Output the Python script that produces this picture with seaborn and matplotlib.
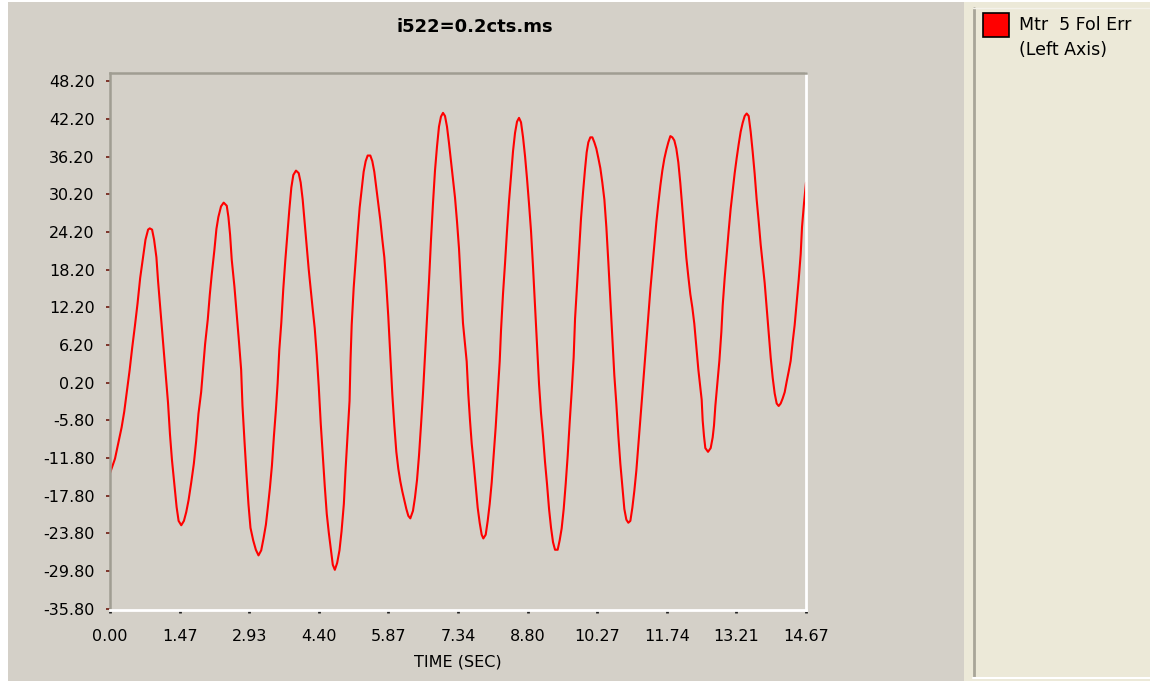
import matplotlib
matplotlib.use("Agg")
import matplotlib.pyplot as plt
import seaborn as sns
import pandas as pd
from matplotlib.patches import Rectangle
from matplotlib.lines import Line2D

# ---------------- data ----------------
time_s = [
    0.000, 0.105, 0.175, 0.245, 0.300, 0.356, 0.412, 0.468, 0.524, 0.580, 0.636, 0.692, 0.748, 0.803, 0.838,
    0.887, 0.929, 0.978, 1.013, 1.055, 1.097, 1.139, 1.181, 1.223, 1.264, 1.306, 1.362, 1.404, 1.446, 1.502,
    1.558, 1.607, 1.656, 1.712, 1.767, 1.816, 1.865, 1.921, 1.963, 2.005, 2.061, 2.103, 2.145, 2.201, 2.243,
    2.284, 2.340, 2.396,
    2.461, 2.496, 2.531, 2.566, 2.623, 2.672, 2.721, 2.764, 2.792, 2.834, 2.877, 2.919, 2.961, 3.018, 3.074,
    3.130, 3.187, 3.236, 3.286, 3.328, 3.370, 3.413, 3.455, 3.497, 3.533, 3.568, 3.610, 3.652, 3.695, 3.737,
    3.779, 3.822, 3.864, 3.920, 3.977, 4.019, 4.061, 4.104, 4.146, 4.188, 4.231, 4.273, 4.315, 4.358, 4.400,
    4.442, 4.485, 4.527, 4.569, 4.612, 4.654, 4.696, 4.739, 4.788, 4.837, 4.880, 4.929, 4.964, 5.007, 5.049,
    5.070,
    5.094, 5.136, 5.178, 5.220, 5.262, 5.304, 5.346, 5.389, 5.431, 5.487, 5.529, 5.571, 5.613, 5.656, 5.698,
    5.740, 5.782, 5.824, 5.866, 5.909, 5.951, 5.993, 6.035, 6.077, 6.119, 6.161, 6.204, 6.246, 6.288, 6.330,
    6.386, 6.428, 6.471, 6.513, 6.555, 6.597, 6.639, 6.681, 6.724, 6.766, 6.808, 6.850, 6.892, 6.934, 6.976,
    7.019, 7.061, 7.103, 7.145, 7.187, 7.229, 7.272, 7.314, 7.356, 7.398, 7.440,
    7.518, 7.553, 7.588, 7.624, 7.666, 7.708, 7.750, 7.792, 7.834, 7.869, 7.919, 7.961, 8.003, 8.045, 8.087,
    8.129, 8.172, 8.214, 8.242, 8.284, 8.326, 8.368, 8.410, 8.453, 8.495, 8.537, 8.579, 8.621, 8.663, 8.706,
    8.748, 8.790, 8.832, 8.874, 8.916, 8.958, 9.001, 9.043, 9.085, 9.127, 9.169, 9.211, 9.254, 9.296, 9.338,
    9.380, 9.436, 9.478, 9.520, 9.563, 9.605, 9.647, 9.689, 9.731, 9.773, 9.802, 9.844, 9.886, 9.928, 9.970,
    10.012,
    10.047, 10.082, 10.124, 10.167, 10.209, 10.251, 10.293, 10.335, 10.377, 10.420, 10.462, 10.504, 10.546,
    10.588, 10.630, 10.672, 10.715, 10.757, 10.799, 10.841, 10.883, 10.925, 10.968, 11.010, 11.052, 11.094,
    11.136, 11.178, 11.220, 11.263, 11.305, 11.347, 11.389, 11.431, 11.473, 11.516, 11.558, 11.600, 11.642,
    11.684, 11.726, 11.768, 11.811, 11.853, 11.895, 11.937, 11.979, 12.021, 12.064, 12.106, 12.148, 12.190,
    12.232, 12.274, 12.316, 12.359, 12.401,
    12.471, 12.492, 12.520, 12.548, 12.605, 12.661, 12.703, 12.731, 12.759, 12.801, 12.844, 12.886, 12.914,
    12.956, 12.998, 13.040, 13.082, 13.125, 13.167, 13.209, 13.251, 13.293, 13.335, 13.378, 13.420, 13.462,
    13.504, 13.546, 13.588, 13.630, 13.673, 13.715, 13.757, 13.799, 13.841, 13.883, 13.926, 13.968, 14.010,
    14.052, 14.094, 14.136, 14.178, 14.221, 14.263, 14.305, 14.347, 14.389, 14.431, 14.473, 14.516, 14.558,
    14.586, 14.628, 14.670,
]
fol_err = [
    -14.2, -11.9, -9.4, -6.9, -4.4, -1.1, 2.1, 5.8, 9.2, 12.8, 16.9, 20.0, 23.0, 24.6, 24.8,
    24.6, 23.0, 20.2, 16.4, 12.5, 8.6, 4.7, 0.9, -3.0, -8.0, -12.1, -16.3, -19.6, -21.8, -22.5,
    -21.8, -20.4, -18.5, -15.7, -12.7, -9.1, -4.7, -1.3, 2.5, 6.4, 10.3, 14.2, 17.5, 21.4, 24.7,
    26.6, 28.3, 28.9,
    28.4, 26.6, 23.8, 19.8, 15.5, 11.1, 6.5, 2.3, -3.4, -9.0, -14.4, -19.2, -22.9, -24.9, -26.4,
    -27.3, -26.5, -24.6, -22.4, -19.6, -16.6, -13.0, -8.3, -4.1, 0.1, 5.4, 9.7, 15.1, 19.7, 23.7,
    27.7, 31.3, 33.3, 34.0, 33.6, 32.1, 29.4, 25.6, 21.8, 18.3, 15.0, 11.9, 8.9, 4.6, -0.4,
    -6.3, -11.5, -16.3, -20.7, -23.7, -26.3, -28.8, -29.6, -28.5, -26.5, -23.5, -19.1, -13.8, -8.3, -2.7,
    3.9,
    9.4, 15.3, 19.8, 24.1, 28.1, 31.0, 33.8, 35.5, 36.4, 36.4, 35.5, 33.8, 31.3, 28.8, 26.1,
    23.0, 20.2, 15.8, 10.7, 4.5, -1.7, -6.6, -10.8, -13.5, -15.5, -17.1, -18.5, -19.9, -21.0, -21.4,
    -20.2, -18.1, -15.3, -11.4, -6.6, -1.5, 4.6, 10.4, 16.4, 23.0, 28.8, 34.0, 37.8, 41.0, 42.6,
    43.2, 42.7, 41.0, 38.4, 35.5, 32.5, 29.7, 25.9, 21.6, 15.5, 9.7,
    3.6, -1.7, -5.8, -9.5, -12.7, -16.2, -19.7, -22.1, -24.0, -24.6, -24.0, -21.8, -19.1, -15.7, -11.2,
    -6.9, -1.6, 3.6, 8.6, 14.4, 19.2, 24.4, 29.1, 33.1, 37.1, 40.0, 41.8, 42.4, 41.7, 39.3,
    36.3, 32.7, 28.7, 24.4, 18.7, 12.6, 6.3, 0.0, -4.7, -8.3, -12.4, -15.9, -19.9, -22.9, -25.2,
    -26.4, -26.4, -24.9, -23.0, -19.9, -15.9, -11.4, -6.1, -1.2, 4.3, 10.4, 15.8, 21.1, 26.4, 30.5,
    34.2,
    36.9, 38.5, 39.3, 39.3, 38.5, 37.5, 36.0, 34.4, 32.1, 29.4, 25.0, 19.4, 13.3,
    7.5, 1.4, -3.1, -8.3, -12.7, -16.4, -19.9, -21.6, -22.1, -21.8, -19.7, -17.0, -13.8,
    -9.8, -5.8, -1.6, 2.6, 6.7, 10.7, 15.0, 18.6, 22.3, 25.8, 28.8, 31.6, 34.0,
    35.9, 37.3, 38.5, 39.5, 39.3, 38.8, 37.5, 35.3, 32.0, 28.0, 24.2, 20.1, 17.1,
    14.3, 12.2, 9.6, 6.0, 2.3,
    -2.5, -5.8, -8.3, -10.2, -10.8, -10.2, -8.5, -6.6, -3.5, 0.0, 3.7, 8.3, 12.5,
    16.9, 20.7, 24.4, 27.9, 30.8, 33.6, 36.0, 38.2, 40.2, 41.6, 42.7, 43.1, 42.7,
    40.2, 37.0, 33.5, 29.4, 25.9, 22.2, 19.2, 16.1, 12.1, 8.1, 4.2, 1.0, -1.5,
    -3.1, -3.5, -3.1, -2.3, -1.3, 0.4, 2.0, 3.7, 6.7, 9.4, 12.9, 16.6, 20.7,
    25.0, 28.8, 32.1,
]
x_ticks = [0.00, 1.467, 2.934, 4.401, 5.868, 7.335, 8.802, 10.269, 11.736, 13.203, 14.67]
x_tick_labels = ["0.00", "1.47", "2.93", "4.40", "5.87", "7.34", "8.80", "10.27", "11.74", "13.21", "14.67"]
y_ticks = [48.2, 42.2, 36.2, 30.2, 24.2, 18.2, 12.2, 6.2, 0.2, -5.8, -11.8, -17.8, -23.8, -29.8, -35.8]
y_tick_labels = ["48.20", "42.20", "36.20", "30.20", "24.20", "18.20", "12.20", "6.20", "0.20",
                 "-5.80", "-11.80", "-17.80", "-23.80", "-29.80", "-35.80"]
title_text = "i522=0.2cts.ms"
x_label = "TIME (SEC)"
legend_lines = ["Mtr  5 Fol Err", "(Left Axis)"]

# ---------------- styling ----------------
W, H = 1150, 681
BG = "#d4d0c8"
PANEL = "#ece9d8"

sns.set_theme(style="white")
plt.rcParams["font.family"] = ["DejaVu Sans"]

fig = plt.figure(figsize=(W / 100, H / 100), dpi=100)
fig.patch.set_facecolor("white")


def fx(px):
    return px / W


def fy(py):
    return 1 - py / H


# window background areas
fig.add_artist(Rectangle((fx(8), 0), fx(964 - 8), fy(2), transform=fig.transFigure,
                         facecolor=BG, edgecolor="none", zorder=-10))
fig.add_artist(Rectangle((fx(964), 0), fx(W - 964), fy(2), transform=fig.transFigure,
                         facecolor=PANEL, edgecolor="none", zorder=-10))
fig.add_artist(Line2D([fx(973.5), fx(973.5)], [fy(8), fy(677)], transform=fig.transFigure,
                      color="#a8a598", lw=2.0))
fig.add_artist(Line2D([fx(973), fx(W)], [fy(677.5), fy(677.5)], transform=fig.transFigure,
                      color="white", lw=1.5))
fig.add_artist(Line2D([fx(973), fx(W)], [fy(8), fy(8)], transform=fig.transFigure,
                      color="#f4f2ea", lw=1.0))

left, right, top, bottom = 110, 806, 73, 610
ax = fig.add_axes([fx(left), fy(bottom), fx(right - left), (bottom - top) / H])
ax.set_facecolor(BG)

df = pd.DataFrame({"t": time_s, "err": fol_err})
sns.lineplot(data=df, x="t", y="err", ax=ax, color="#ff0000", linewidth=1.5,
             sort=False, estimator=None, legend=False)

ax.set_xlim(0, 14.67)
ax.set_ylim(-36.0, 49.55)
ax.set_xticks(x_ticks)
ax.set_xticklabels(x_tick_labels)
ax.set_yticks(y_ticks)
ax.set_yticklabels(y_tick_labels)
ax.set_xlabel(x_label, fontsize=11.5, color="black", labelpad=7)
ax.set_ylabel("")

# title (slightly right of the plot centre, as in the original window)
fig.text(fx(475), fy(27), title_text, fontsize=13, fontweight="bold",
         color="black", ha="center", va="center")

ax.tick_params(axis="y", which="major", left=True, length=3, width=1.2, color="#6e1a10",
               labelsize=11.5, labelcolor="black", pad=8)
ax.tick_params(axis="x", which="major", bottom=True, length=2, width=2, color="#222222",
               labelsize=11.5, labelcolor="black", pad=12)

for side in ["left", "top"]:
    ax.spines[side].set_color("#a09d92")
    ax.spines[side].set_linewidth(1.8)
for side in ["right", "bottom"]:
    ax.spines[side].set_color("white")
    ax.spines[side].set_linewidth(2.0)
for s in ax.spines.values():
    s.set_visible(True)
ax.grid(False)

# legend panel content
fig.add_artist(Rectangle((fx(983), fy(37)), fx(26), 24 / H, transform=fig.transFigure,
                         facecolor="#ff0000", edgecolor="black", linewidth=1.2))
fig.text(fx(1019), fy(25), legend_lines[0], fontsize=12.5, va="center", ha="left", color="black")
fig.text(fx(1019), fy(50), legend_lines[1], fontsize=12.5, va="center", ha="left", color="black")

fig.savefig("out.png", dpi=100, facecolor=fig.get_facecolor())
